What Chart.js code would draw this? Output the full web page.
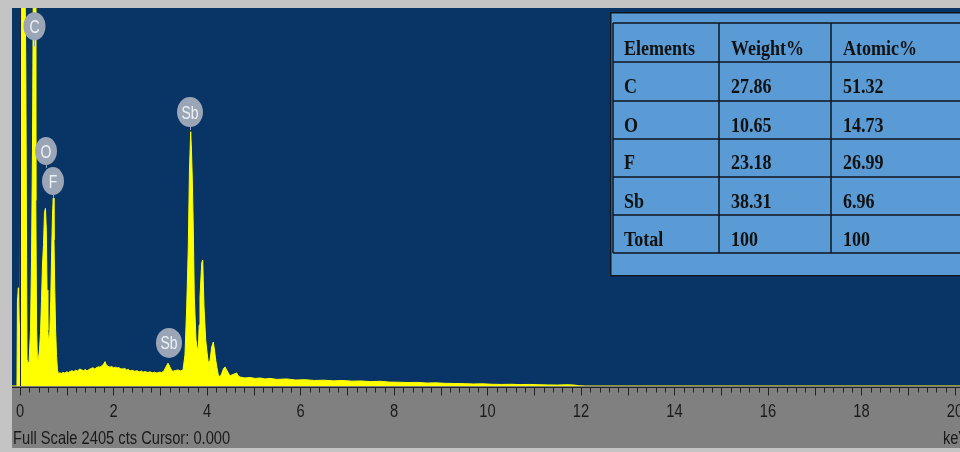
<!DOCTYPE html>
<html lang="en">
<head>
<meta charset="UTF-8">
<title>EDS Spectrum</title>
<script src="https://cdn.jsdelivr.net/npm/chart.js"></script>
<style>
  html, body { margin: 0; padding: 0; background: #c4c4c4; }
  #wrap { position: relative; width: 960px; height: 452px; }
</style>
</head>
<body>
<div id="wrap"><canvas id="spectrum" width="960" height="452"></canvas></div>
<script>
// spectrum channels: energy (keV) and counts
const energyKeV = [
  -0.17, -0.065, -0.055, -0.035, -0.015, 0.005, 0.030, 0.095, 0.125, 0.150,
  0.172, 0.195, 0.225, 0.246, 0.267, 0.289, 0.321, 0.338, 0.355, 0.374,
  0.396, 0.417, 0.439, 0.460, 0.481, 0.503, 0.524, 0.545, 0.563, 0.578,
  0.595, 0.615, 0.636, 0.657, 0.678, 0.695, 0.712, 0.727, 0.744, 0.762,
  0.781, 0.802, 0.824,
  0.850, 0.890, 0.920, 0.960, 1.000, 1.040, 1.070, 1.110, 1.150, 1.190,
  1.230, 1.280, 1.320, 1.360, 1.400, 1.433, 1.470, 1.510, 1.561, 1.600,
  1.640, 1.680, 1.711, 1.750, 1.790, 1.818, 1.845, 1.880, 1.925, 1.960,
  2.000, 2.040, 2.075, 2.110, 2.150, 2.203, 2.240, 2.280, 2.320, 2.353,
  2.400, 2.450, 2.503, 2.550, 2.600, 2.631, 2.680, 2.730, 2.781, 2.830,
  2.880, 2.930, 2.980, 3.030, 3.080, 3.120, 3.166, 3.200, 3.240, 3.273,
  3.320, 3.380, 3.430, 3.487,
  3.529, 3.566, 3.600, 3.625, 3.651, 3.668, 3.686, 3.707, 3.728, 3.765,
  3.790, 3.814, 3.833, 3.850, 3.887, 3.908, 3.920, 3.936, 3.972, 4.000,
  4.028, 4.064, 4.100, 4.135, 4.160, 4.186, 4.214, 4.242, 4.278, 4.314,
  4.350, 4.385, 4.420, 4.456, 4.490, 4.528, 4.580, 4.635, 4.670, 4.706,
  4.810, 4.920, 5.030, 5.134, 5.240, 5.350,
  5.50, 5.70, 5.90, 6.10, 6.30, 6.50, 6.70, 6.90, 7.10, 7.30,
  7.50, 7.70, 7.90, 8.10, 8.30, 8.50, 8.70, 8.90, 9.10, 9.30,
  9.50, 9.70, 9.90, 10.10, 10.30, 10.50, 10.70, 10.90, 11.10, 11.30,
  11.50, 11.70, 11.85, 11.95, 12.10, 20.20
];
const counts = [
  0, 0, 540, 625, 360, 420, 3000, 3000, 2000, 170,
  145, 155, 360, 800, 1500, 2800, 2800, 1180, 360, 150,
  175, 230, 340, 545, 770, 900, 1105, 1130, 990, 610,
  355, 275, 325, 545, 865, 1090, 1195, 930, 610, 355,
  195, 100, 78,
  84, 80, 86, 82, 90, 86, 92, 97, 92, 100,
  96, 108, 102, 98, 105, 96, 104, 110, 116, 108,
  118, 122, 120, 128, 140, 155, 135, 126, 120, 124,
  116, 120, 114, 118, 110, 108, 112, 102, 106, 96,
  100, 94, 97, 90, 95, 88, 92, 86, 90, 84,
  88, 82, 88, 86, 96, 120, 145, 125, 100, 94,
  98, 102, 96, 102,
  197, 503, 884, 1374, 1618, 1501, 1311, 992, 566, 293,
  242, 229, 388, 566, 783, 802, 674, 503, 293, 216,
  150, 160, 248, 280, 229, 165, 115, 70, 57, 78,
  108, 121, 102, 83, 64, 70, 76, 83, 64, 57,
  51, 54, 48, 51, 45, 48,
  42, 45, 38, 40, 35, 37, 33, 35, 31, 32,
  28, 30, 25, 24, 22, 23, 19, 20, 17, 16,
  15, 13, 14, 11, 10, 11, 9, 10, 8, 7,
  6, 8, 6, 2, 0, 0
];
const fullScale = 2405;

// energy axis
const axisTicks = [0, 2, 4, 6, 8, 10, 12, 14, 16, 18, 20];
const axisTickLabels = ['0', '2', '4', '6', '8', '10', '12', '14', '16', '18', '20'];

// element peak markers
const peakNames = ['C', 'O', 'F', 'Sb', 'Sb'];
const peakKeV = [0.31, 0.556, 0.706, 3.636, 3.187];
const peakLabelCts = [2289, 1495, 1304, 1743, 274];
const peakStemCts = [2160, 1387, 1196, 1629, 178];

// quantification table
const tableHeader = ['Elements', 'Weight%', 'Atomic%'];
const tableElements = ['C', 'O', 'F', 'Sb', 'Total'];
const tableWeight = ['27.86', '10.65', '23.18', '38.31', '100'];
const tableAtomic = ['51.32', '14.73', '26.99', '6.96', '100'];

function tallText(ctx, txt, x, y, sy, align) {
  ctx.save();
  ctx.translate(x, y);
  ctx.scale(1, sy);
  ctx.textAlign = align || 'left';
  ctx.textBaseline = 'alphabetic';
  ctx.fillText(txt, 0, 0);
  ctx.restore();
}

const panelPlugin = {
  id: 'panel',
  beforeDraw(chart) {
    const { ctx, chartArea: a, width, height } = chart;
    ctx.save();
    ctx.fillStyle = '#c4c4c4';
    ctx.fillRect(0, 0, width, height);
    ctx.fillStyle = '#808080';
    ctx.fillRect(a.left, a.bottom, width - a.left, 62);
    ctx.fillStyle = '#083566';
    ctx.fillRect(a.left, a.top, a.right - a.left, a.bottom - a.top);
    ctx.restore();
  },
  afterDatasetsDraw(chart) {
    const { ctx, chartArea: a } = chart;
    const xs = chart.scales.x, ys = chart.scales.y;
    ctx.save();

    // cursor at 0.000 keV
    const cx = Math.round(xs.getPixelForValue(0)) + 0.5;
    ctx.strokeStyle = '#1a1f3a';
    ctx.lineWidth = 1;
    ctx.beginPath();
    ctx.moveTo(cx, a.top);
    ctx.lineTo(cx, a.bottom);
    ctx.stroke();

    // tick strip
    const base = a.bottom + 1.5;
    ctx.strokeStyle = '#222';
    ctx.beginPath();
    ctx.moveTo(a.left, base);
    ctx.lineTo(a.right, base);
    for (let i = 0; i <= 101; i++) {
      const v = i * 0.2;
      const px = Math.round(xs.getPixelForValue(v)) + 0.5;
      if (px > a.right) break;
      const len = (i % 5 === 0) ? 8 : 5;
      ctx.moveTo(px, base);
      ctx.lineTo(px, base + len);
    }
    ctx.stroke();

    ctx.fillStyle = '#1a1a1a';
    ctx.font = '14.7px "Liberation Sans", Arial, sans-serif';
    axisTicks.forEach((v, i) => {
      tallText(ctx, axisTickLabels[i], xs.getPixelForValue(v), 417, 1.3, 'center');
    });
    tallText(ctx, 'Full Scale ' + fullScale + ' cts Cursor: 0.000', 13, 444, 1.3, 'left');
    tallText(ctx, 'keV', 943, 444, 1.3, 'left');

    // peak markers
    peakNames.forEach((name, i) => {
      const px = xs.getPixelForValue(peakKeV[i]);
      const py = ys.getPixelForValue(peakLabelCts[i]);
      const sy = ys.getPixelForValue(peakStemCts[i]);
      const rx = name.length > 1 ? 13 : 11;
      const ry = name.length > 1 ? 15 : 14;
      ctx.strokeStyle = '#9aa5b6';
      ctx.beginPath();
      ctx.moveTo(Math.round(px) + 0.5, py + ry - 1);
      ctx.lineTo(Math.round(px) + 0.5, sy);
      ctx.stroke();
      ctx.fillStyle = '#9aa5b6';
      ctx.beginPath();
      ctx.ellipse(px, py, rx, ry, 0, 0, Math.PI * 2);
      ctx.fill();
      ctx.fillStyle = '#eef2f7';
      ctx.font = '14px "Liberation Sans", Arial, sans-serif';
      tallText(ctx, name, px, py + 6.5, 1.3, 'center');
    });

    // quantification table
    const rowY = [23, 62, 101, 139, 177, 215, 253];
    const colX = [613, 719, 831, 980];
    ctx.fillStyle = '#5b9bd5';
    ctx.fillRect(610, 12, 360, 264);
    ctx.strokeStyle = '#10161e';
    ctx.lineWidth = 1.5;
    ctx.strokeRect(610.75, 12.75, 360, 263);
    ctx.lineWidth = 1.5;
    ctx.beginPath();
    rowY.forEach(y => { ctx.moveTo(colX[0], y); ctx.lineTo(colX[3], y); });
    colX.slice(0, 3).forEach(x => { ctx.moveTo(x, rowY[0]); ctx.lineTo(x, rowY[6]); });
    ctx.stroke();

    const textX = [624, 731, 843];
    const baseY = [55, 93, 132, 169, 208, 246];
    ctx.fillStyle = '#111';
    ctx.font = 'bold 18px "Liberation Serif", "Times New Roman", serif';
    tableHeader.forEach((h, j) => tallText(ctx, h, textX[j], baseY[0], 1.18, 'left'));
    tableElements.forEach((el, r) => {
      tallText(ctx, el, textX[0], baseY[r + 1], 1.18, 'left');
      tallText(ctx, tableWeight[r], textX[1], baseY[r + 1], 1.18, 'left');
      tallText(ctx, tableAtomic[r], textX[2], baseY[r + 1], 1.18, 'left');
    });

    ctx.restore();
  }
};

const ctx = document.getElementById('spectrum').getContext('2d');
const spectrumChart = new Chart(ctx, {
  type: 'line',
  data: {
    datasets: [{
      label: 'Counts',
      data: energyKeV.map((e, i) => ({ x: e, y: counts[i] })),
      borderColor: '#ffff00',
      backgroundColor: '#ffff00',
      borderWidth: 1,
      fill: 'start',
      pointRadius: 0,
      tension: 0
    }]
  },
  options: {
    responsive: false,
    animation: false,
    devicePixelRatio: 1,
    layout: { autoPadding: false, padding: { left: 12, top: 8, right: 0, bottom: 66 } },
    plugins: { legend: { display: false }, tooltip: { enabled: false } },
    scales: {
      x: { type: 'linear', min: -0.1711, max: 20.107, display: false },
      y: { min: 0, max: fullScale, display: false }
    }
  },
  plugins: [panelPlugin]
});
</script>
</body>
</html>
